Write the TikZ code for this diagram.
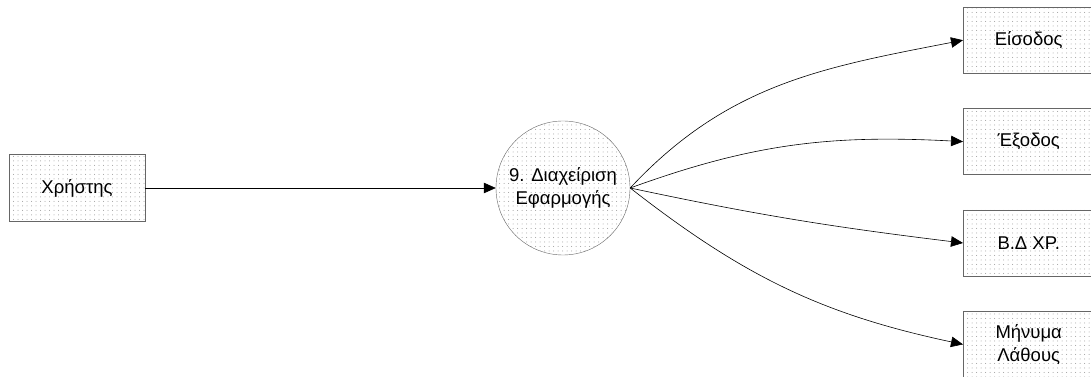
\documentclass[tikz,border=0pt]{standalone}
\usepackage{fontspec}
\setmainfont{Liberation Sans}
\usetikzlibrary{positioning,arrows.meta,patterns.meta}

\begin{document}
\begin{tikzpicture}[
  x=1pt, y=1pt,
  node distance=35pt,
  entity/.style={rectangle, draw=black!60, pattern={Dots[distance=4.5pt,radius=0.5pt]}, pattern color=black!40, minimum width=131pt, minimum height=66pt, align=center, font=\fontsize{18.5}{23}\selectfont},
  process/.style={circle, draw=black!60, pattern={Dots[distance=4.5pt,radius=0.5pt]}, pattern color=black!40, minimum size=134pt, inner sep=0pt, align=center, font=\fontsize{18.5}{23}\selectfont},
  flow/.style={-{Triangle[length=12pt,width=10.5pt]}, line width=0.6pt}
]
\useasboundingbox (0,0) rectangle (1091,377);

\node[entity, minimum width=136pt, minimum height=67pt] (user) at (77,189) {Χρήστης};
\node[process] (app) at (563,189) {9. Διαχείριση\\Εφαρμογής};
\node[entity, anchor=north west] (entry) at (963,370) {Είσοδος};
\node[entity, below=of entry] (exit) {Έξοδος};
\node[entity, below=of exit] (userdb) {Β.Δ ΧΡ.};
\node[entity, below=of userdb] (errmsg) {Μήνυμα\\Λάθους};

\draw[flow] (user) -- (app);
\draw[flow] (app.east) to[out=47, in=191] (entry.west);
\draw[flow] (app.east) to[out=20, in=177] (exit.west);
\draw[flow] (app.east) to[out=-12, in=173] (userdb.west);
\draw[flow] (app.east) to[out=-38, in=168] (errmsg.west);
\end{tikzpicture}
\end{document}
